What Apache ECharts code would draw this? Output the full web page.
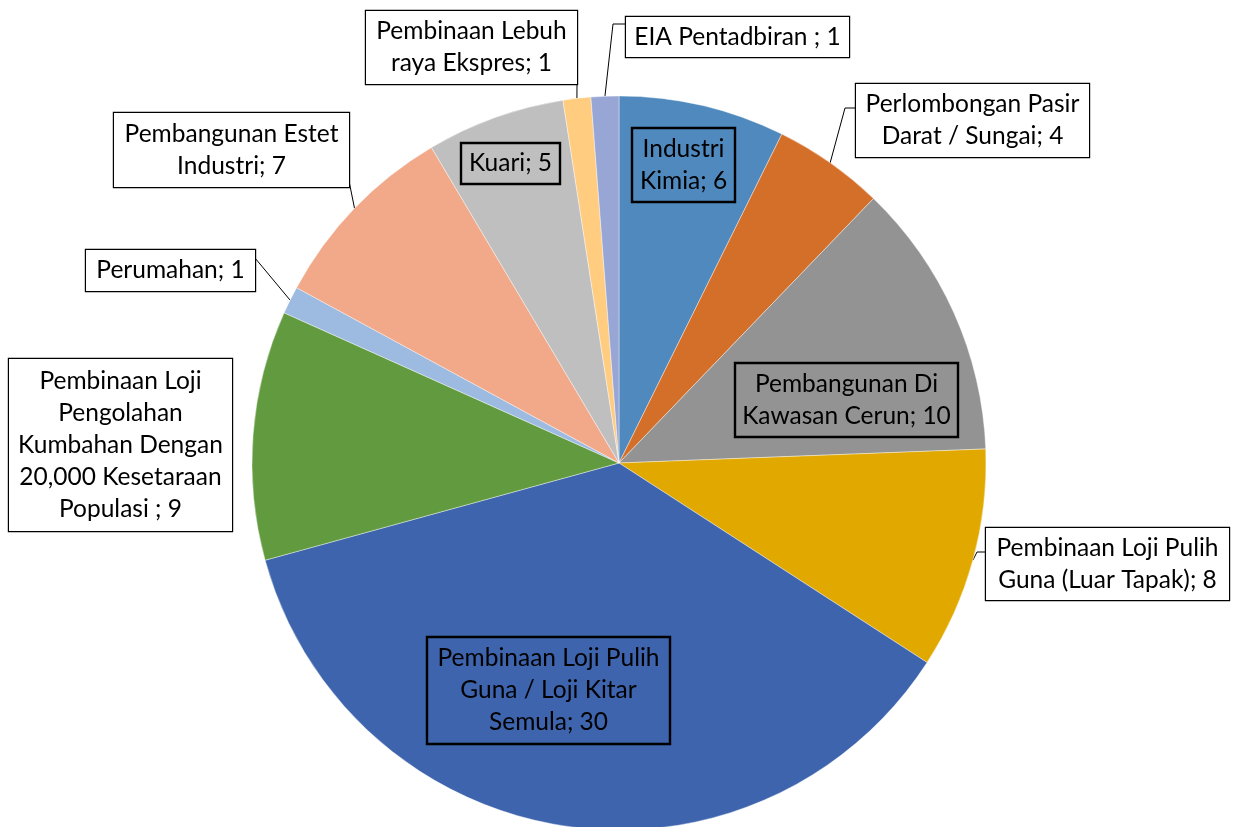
<!DOCTYPE html>
<html>
<head>
<meta charset="utf-8">
<script src="https://cdn.jsdelivr.net/npm/echarts@6/dist/echarts.min.js"></script>
<style>
    html, body { margin: 0; padding: 0; background: #fff; }
    #chart { width: 1237px; height: 827px; }
</style>
</head>
<body>
<div id="chart"></div>
<script>
// data
const categories = [
    'Industri\nKimia',
    'Perlombongan Pasir\nDarat / Sungai',
    'Pembangunan Di\nKawasan Cerun',
    'Pembinaan Loji Pulih\nGuna (Luar Tapak)',
    'Pembinaan Loji Pulih\nGuna / Loji Kitar\nSemula',
    'Pembinaan Loji\nPengolahan\nKumbahan Dengan\n20,000 Kesetaraan\nPopulasi ',
    'Perumahan',
    'Pembangunan Estet\nIndustri',
    'Kuari',
    'Pembinaan Lebuh\nraya Ekspres',
    'EIA Pentadbiran '
]
const values = [6, 4, 10, 8, 30, 9, 1, 7, 5, 1, 1]

// style
const colors = ['#4f89bd', '#d46f2a', '#939393', '#e1a800', '#3d64ad', '#629b3f',
    '#9dbae1', '#f1a98a', '#bfbfbf', '#ffcc80', '#98a6d6']
// label boxes [left, top, right, bottom]
const labelBoxes = [
    [632, 128, 735, 202],
    [856, 84, 1089, 157],
    [735, 363, 958, 437],
    [986, 528, 1229, 600],
    [427, 637, 670, 744],
    [9, 359, 232, 531],
    [86, 250, 255, 291],
    [114, 113, 349, 187],
    [461, 143, 560, 184],
    [366, 11, 577, 84],
    [626, 17, 849, 57]
]
const insideLabel = [true, false, true, false, true, false, false, false, true, false, false]
// leader line bend points (null = no line)
const leaders = [
    null,
    [[845, 108], [856, 108]],
    null,
    [[977, 552], [986, 552]],
    null,
    null,
    [[255, 258]],
    [[348, 176]],
    null,
    [[577, 84]],
    [[613, 24], [626, 24]]
]

const cx = 619, cy = 463, r = 367
const total = values.reduce((s, v) => s + v, 0)

// slice edge point at mid angle (fallback)
const edgePoint = (i) => {
    const before = values.slice(0, i).reduce((s, v) => s + v, 0)
    const a = (before + values[i] / 2) / total * Math.PI * 2
    return [cx + r * Math.sin(a), cy - r * Math.cos(a)]
}

const data = categories.map((name, i) => {
    const b = labelBoxes[i]
    const lines = name.split('\n').length
    return {
        name,
        value: values[i],
        itemStyle: { color: colors[i] },
        label: {
            width: b[2] - b[0],
            padding: [(b[3] - b[1] - lines * 32) / 2, 0],
            backgroundColor: insideLabel[i] ? 'transparent' : '#fff'
        },
        labelLine: { show: !!leaders[i] }
    }
})

const chart = echarts.init(document.getElementById('chart'))
chart.setOption({
    animation: false,
    series: [{
        type: 'pie',
        center: [cx, cy],
        radius: r,
        startAngle: 90,
        clockwise: true,
        avoidLabelOverlap: false,
        itemStyle: { borderColor: '#fff', borderWidth: 0.4 },
        label: {
            show: true,
            position: 'outside',
            formatter: '{b}; {c}',
            fontFamily: 'Lato',
            fontSize: 24.5,
            lineHeight: 32,
            color: '#000',
            align: 'center',
            overflow: 'none',
            borderColor: '#000',
            borderWidth: 1.2
        },
        labelLine: {
            show: true,
            length: 10,
            length2: 10,
            smooth: false,
            lineStyle: { color: '#000', width: 1 }
        },
        labelLayout: function (params) {
            const i = params.dataIndex
            const b = labelBoxes[i]
            const res = {
                x: (b[0] + b[2]) / 2,
                y: (b[1] + b[3]) / 2,
                align: 'center',
                verticalAlign: 'middle'
            }
            if (leaders[i]) {
                const p0 = params.labelLinePoints ? params.labelLinePoints[0] : edgePoint(i)
                res.labelLinePoints = [p0].concat(leaders[i])
            }
            return res
        },
        data
    }]
})
</script>
</body>
</html>
